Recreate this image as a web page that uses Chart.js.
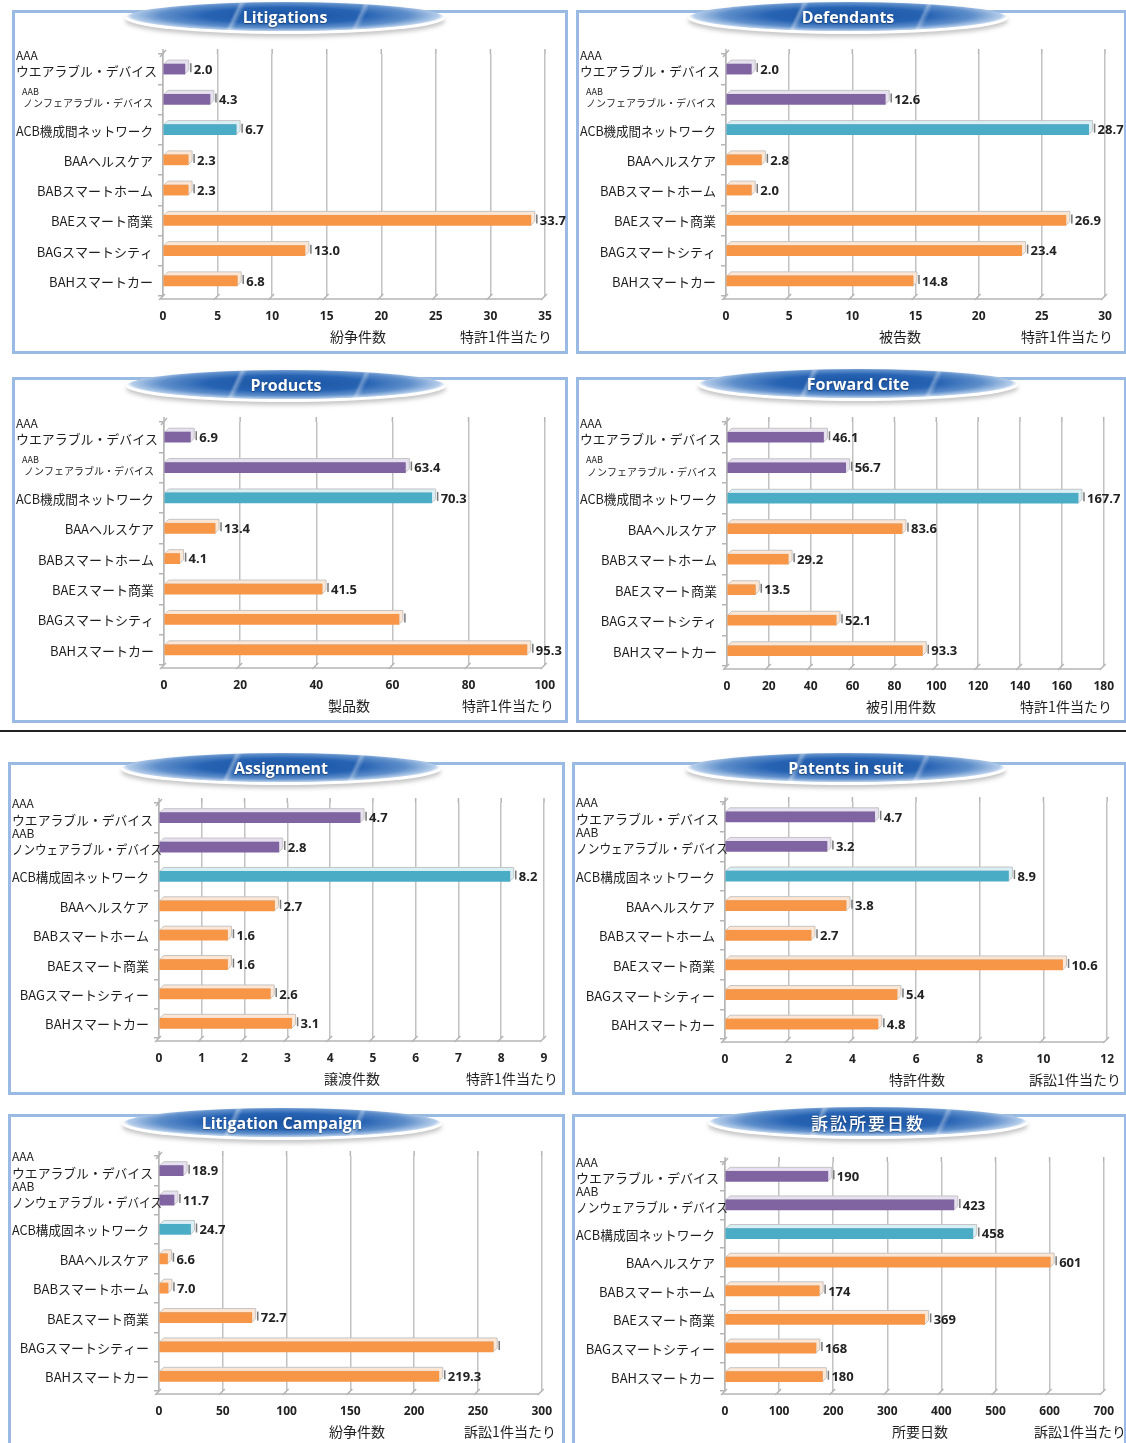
<!DOCTYPE html>
<html lang="ja">
<head>
<meta charset="utf-8">
<title>特許指標比較</title>
<script src="https://cdn.jsdelivr.net/npm/chart.js@4.4.1/dist/chart.umd.min.js"></script>
<style>
  html, body { margin: 0; padding: 0; background: #fff; }
  body { position: relative; width: 1126px; height: 1443px; overflow: hidden; }
  .panel { position: absolute; box-sizing: border-box; border: 3px solid #98bae3; background: #fff; }
  .chart { position: absolute; }
  .pill {
    position: absolute; width: 320px; height: 32px; margin-left: -160px; margin-top: -16px;
    border-radius: 50%;
    background: radial-gradient(ellipse 50% 50% at 50% 42%, #1a54a2 0%, #2763b3 50%, #5f8fcb 78%, #b5cdea 96%, rgba(220,232,246,0) 100%);
    box-shadow: 0 3px 4px rgba(90,90,90,0.35);
    color: #fff; font: bold 16px "Open Sans", sans-serif; text-align: center; line-height: 31px;
    text-shadow: 0 1px 1px rgba(0,0,0,0.35); overflow: hidden;
  }
  .pill::before {
    content: ""; position: absolute; left: 26%; top: -4px; width: 50%; height: 40px;
    background: linear-gradient(115deg, rgba(255,255,255,0) 18%, rgba(255,255,255,0.35) 20%, rgba(255,255,255,0) 23%, rgba(255,255,255,0) 88%, rgba(255,255,255,0.3) 90%, rgba(255,255,255,0) 93%);
  }
  .pill span { position: relative; }
  .pill.jp { font: 500 17px "Noto Sans CJK JP", sans-serif; letter-spacing: 2px; line-height: 31px; }
  .rule { position: absolute; left: 0; top: 730px; width: 1126px; height: 2px; background: #222; }
</style>
</head>
<body>
<div class="rule"></div>
<script>
// categories
var categoriesTop = [['AAA', 'ウエアラブル・デバイス'], ['AAB', 'ノンフェアラブル・デバイス'], 'ACB機成間ネットワーク',
    'BAAヘルスケア', 'BABスマートホーム', 'BAEスマート商業', 'BAGスマートシティ', 'BAHスマートカー'];
var categoriesBottom = [['AAA', 'ウエアラブル・デバイス'], ['AAB', 'ノンウェアラブル・デバイス'], 'ACB構成固ネットワーク',
    'BAAヘルスケア', 'BABスマートホーム', 'BAEスマート商業', 'BAGスマートシティー', 'BAHスマートカー'];

// values per patent / per suit
var litigations = [2.0, 4.3, 6.7, 2.3, 2.3, 33.7, 13.0, 6.8];
var defendants = [2.0, 12.6, 28.7, 2.8, 2.0, 26.9, 23.4, 14.8];
var products = [6.9, 63.4, 70.3, 13.4, 4.1, 41.5, 61.7, 95.3];
var forwardCites = [46.1, 56.7, 167.7, 83.6, 29.2, 13.5, 52.1, 93.3];
var assignments = [4.7, 2.8, 8.2, 2.7, 1.6, 1.6, 2.6, 3.1];
var patentsInSuit = [4.7, 3.2, 8.9, 3.8, 2.7, 10.6, 5.4, 4.8];
var campaigns = [18.9, 11.7, 24.7, 6.6, 7.0, 72.7, 262, 219.3];
var litigationDays = [190, 423, 458, 601, 174, 369, 168, 180];

// x axis ticks
var litigationTicks = [0, 5, 10, 15, 20, 25, 30, 35];
var defendantTicks = [0, 5, 10, 15, 20, 25, 30];
var productTicks = [0, 20, 40, 60, 80, 100];
var citeTicks = [0, 20, 40, 60, 80, 100, 120, 140, 160, 180];
var assignmentTicks = [0, 1, 2, 3, 4, 5, 6, 7, 8, 9];
var suitTicks = [0, 2, 4, 6, 8, 10, 12];
var campaignTicks = [0, 50, 100, 150, 200, 250, 300];
var dayTicks = [0, 100, 200, 300, 400, 500, 600, 700];

var PURPLE = '#8064a2', TEAL = '#4bacc6', ORANGE = '#f79646';
var barColors = [PURPLE, PURPLE, TEAL, ORANGE, ORANGE, ORANGE, ORANGE, ORANGE];
var faceColors = {};
faceColors[PURPLE] = '#e7e0f0';
faceColors[TEAL] = '#d9eff6';
faceColors[ORANGE] = '#fde7d4';

var panels = [
    { title: 'Litigations', box: [12, 10, 556, 344], pill: [285, 18], plot: [163, 545, 54, 296],
      cats: categoriesTop, values: litigations, ticks: litigationTicks, digits: 1,
      axisTitle: '紛争件数', titleX: 358, note: '特許1件当たり', noteX: 506, smallAab: true },
    { title: 'Defendants', box: [576, 10, 551, 344], pill: [848, 18], plot: [726, 1105, 54, 296],
      cats: categoriesTop, values: defendants, ticks: defendantTicks, digits: 1,
      axisTitle: '被告数', titleX: 900, note: '特許1件当たり', noteX: 1067, smallAab: true },
    { title: 'Products', box: [12, 377, 556, 346], pill: [286, 386], plot: [164, 546, 422, 665],
      cats: categoriesTop, values: products, ticks: productTicks, digits: 1, unlabeled: [6],
      axisTitle: '製品数', titleX: 349, note: '特許1件当たり', noteX: 508, smallAab: true },
    { title: 'Forward Cite', box: [576, 377, 551, 346], pill: [858, 385], plot: [727, 1105, 422, 666],
      cats: categoriesTop, values: forwardCites, ticks: citeTicks, digits: 1,
      axisTitle: '被引用件数', titleX: 901, note: '特許1件当たり', noteX: 1066, smallAab: true },
    { title: 'Assignment', box: [8, 762, 557, 333], pill: [281, 769], plot: [159, 544, 803, 1038],
      cats: categoriesBottom, values: assignments, ticks: assignmentTicks, digits: 1,
      axisTitle: '譲渡件数', titleX: 352, note: '特許1件当たり', noteX: 512 },
    { title: 'Patents in suit', box: [572, 762, 555, 333], pill: [846, 769], plot: [725, 1110, 802, 1039],
      cats: categoriesBottom, values: patentsInSuit, ticks: suitTicks, digits: 1,
      axisTitle: '特許件数', titleX: 917, note: '訴訟1件当たり', noteX: 1075 },
    { title: 'Litigation Campaign', box: [8, 1114, 557, 340], pill: [282, 1124], plot: [159, 543, 1156, 1391],
      cats: categoriesBottom, values: campaigns, ticks: campaignTicks, digits: 1, unlabeled: [6],
      axisTitle: '紛争件数', titleX: 357, note: '訴訟1件当たり', noteX: 510 },
    { title: '訴訟所要日数', box: [572, 1114, 555, 340], pill: [868, 1123], plot: [725, 1108, 1162, 1391],
      cats: categoriesBottom, values: litigationDays, ticks: dayTicks, digits: 0, jpTitle: true,
      axisTitle: '所要日数', titleX: 920, note: '訴訟1件当たり', noteX: 1080 }
];

var NUM_FONT = '"Open Sans", "DejaVu Sans", sans-serif';
var JP_FONT = '"Noto Sans CJK JP", sans-serif';

// light top/right faces behind each bar, gives the old office 3d look
var barFaces = {
    id: 'barFaces',
    beforeDatasetsDraw: function (chart) {
        var ctx = chart.ctx;
        var colors = chart.data.datasets[0].backgroundColor;
        var d = 4;
        ctx.save();
        chart.getDatasetMeta(0).data.forEach(function (bar, i) {
            var top = bar.y - bar.height / 2, bottom = bar.y + bar.height / 2;
            ctx.beginPath();
            ctx.moveTo(bar.base, top);
            ctx.lineTo(bar.base + d, top - d);
            ctx.lineTo(bar.x + d, top - d);
            ctx.lineTo(bar.x + d, bottom - d);
            ctx.lineTo(bar.x, bottom);
            ctx.lineTo(bar.x, top);
            ctx.closePath();
            ctx.fillStyle = faceColors[colors[i]];
            ctx.fill();
            ctx.strokeStyle = '#c4c4c4';
            ctx.lineWidth = 1;
            ctx.stroke();
        });
        ctx.restore();
    },
    afterDatasetsDraw: function (chart, args, opts) {
        var ctx = chart.ctx;
        var values = chart.data.datasets[0].data;
        var skip = opts.unlabeled || [];
        ctx.save();
        chart.getDatasetMeta(0).data.forEach(function (bar, i) {
            var tx = bar.x + 6;
            ctx.strokeStyle = '#777';
            ctx.lineWidth = 1.5;
            ctx.beginPath();
            ctx.moveTo(tx, bar.y - 6);
            ctx.lineTo(tx, bar.y + 3);
            ctx.stroke();
            if (skip.indexOf(i) >= 0) return;
            ctx.fillStyle = '#222';
            ctx.font = 'bold 13px ' + NUM_FONT;
            ctx.textAlign = 'left';
            ctx.textBaseline = 'middle';
            ctx.fillText(values[i].toFixed(opts.digits), tx + 3, bar.y + 1);
        });
        ctx.restore();
    }
};

// floor edge, wall top and category names on the left
var frame = {
    id: 'frame',
    beforeDatasetsDraw: function (chart) {
        var ctx = chart.ctx, area = chart.chartArea, xs = chart.scales.x;
        ctx.save();
        ctx.strokeStyle = '#b5b5b5';
        ctx.lineWidth = 1.5;
        ctx.beginPath();
        ctx.moveTo(area.left - 3, area.bottom + 3);
        ctx.lineTo(area.right - 3, area.bottom + 3);
        xs.ticks.forEach(function (t) {
            var x = xs.getPixelForValue(t.value);
            ctx.moveTo(x - 4, area.bottom + 4);
            ctx.lineTo(x + 2, area.bottom - 2);
            ctx.moveTo(x, area.top);
            ctx.lineTo(x, area.top - 5);
        });
        ctx.moveTo(area.left - 3, area.top + 3);
        ctx.lineTo(area.left + 3, area.top - 4);
        ctx.stroke();
        ctx.restore();
    },
    afterDraw: function (chart, args, opts) {
        var ctx = chart.ctx, ys = chart.scales.y;
        var right = chart.chartArea.left - 10;
        ctx.save();
        ctx.fillStyle = '#1e1e1e';
        ctx.textBaseline = 'middle';
        chart.data.labels.forEach(function (label, i) {
            var y = ys.getPixelForValue(i);
            if (Array.isArray(label)) {
                var small = opts.smallAab && i === 1;
                ctx.textAlign = 'left';
                ctx.font = (small ? '9px ' : '12px ') + JP_FONT;
                ctx.fillText(label[0], small ? 10 : 4, y + (small ? -8 : -14));
                ctx.textAlign = 'right';
                ctx.font = (small ? '10px ' : '13px ') + JP_FONT;
                ctx.fillText(label[1], small ? right : right + (i === 1 ? 13 : 4), y + (small ? 4 : 2), right - 4 + (i === 1 && !small ? 13 : 4));
            } else {
                ctx.textAlign = 'right';
                ctx.font = '13px ' + JP_FONT;
                ctx.fillText(label, right, y + 1, right - 4);
            }
        });
        // axis caption and the per-unit note
        var ty = chart.chartArea.bottom + 41;
        ctx.textAlign = 'center';
        ctx.font = '14px ' + JP_FONT;
        ctx.fillText(opts.axisTitle, opts.titleX, ty);
        ctx.fillText(opts.note, opts.noteX, ty);
        ctx.restore();
    }
};

function buildPanel(p) {
    var bx = p.box[0], by = p.box[1], bw = p.box[2], bh = p.box[3];
    var x0 = p.plot[0], x1 = p.plot[1], yTop = p.plot[2], yBottom = p.plot[3];

    var panel = document.createElement('div');
    panel.className = 'panel';
    panel.style.cssText = 'left:' + bx + 'px;top:' + by + 'px;width:' + bw + 'px;height:' + bh + 'px';
    document.body.appendChild(panel);

    var wrap = document.createElement('div');
    wrap.className = 'chart';
    wrap.style.cssText = 'left:' + bx + 'px;top:' + by + 'px;width:' + bw + 'px;height:' + bh + 'px';
    var canvas = document.createElement('canvas');
    wrap.appendChild(canvas);
    document.body.appendChild(wrap);

    var pill = document.createElement('div');
    pill.className = p.jpTitle ? 'pill jp' : 'pill';
    pill.style.left = p.pill[0] + 'px';
    pill.style.top = p.pill[1] + 'px';
    pill.innerHTML = '<span>' + p.title + '</span>';
    document.body.appendChild(pill);

    var ticks = p.ticks;
    new Chart(canvas, {
        type: 'bar',
        data: {
            labels: p.cats,
            datasets: [{ data: p.values, backgroundColor: barColors, borderWidth: 0, barThickness: 10 }]
        },
        options: {
            indexAxis: 'y',
            responsive: true,
            maintainAspectRatio: false,
            animation: false,
            events: [],
            layout: {
                autoPadding: false,
                padding: { left: 0, top: yTop - by, right: bw - (x1 - bx), bottom: 0 }
            },
            scales: {
                x: {
                    min: ticks[0],
                    max: ticks[ticks.length - 1],
                    ticks: { stepSize: ticks[1] - ticks[0], padding: 13, color: '#222', font: { family: NUM_FONT, size: 12, weight: 'bold' } },
                    grid: { color: '#c2c2c2', lineWidth: 1.5, drawTicks: false },
                    border: { display: false },
                    afterFit: function (s) { s.height = bh - (yBottom - by); }
                },
                y: {
                    ticks: { display: false },
                    grid: { drawOnChartArea: false, tickLength: 5, color: '#b5b5b5', lineWidth: 1.5 },
                    border: { color: '#b5b5b5', width: 1.5 },
                    afterFit: function (s) { s.width = x0 - bx; }
                }
            },
            plugins: {
                legend: { display: false },
                tooltip: { enabled: false },
                barFaces: { digits: p.digits, unlabeled: p.unlabeled },
                frame: { axisTitle: p.axisTitle, titleX: p.titleX - bx, note: p.note, noteX: p.noteX - bx, smallAab: p.smallAab }
            }
        },
        plugins: [frame, barFaces]
    });
}

panels.forEach(buildPanel);
</script>
</body>
</html>
